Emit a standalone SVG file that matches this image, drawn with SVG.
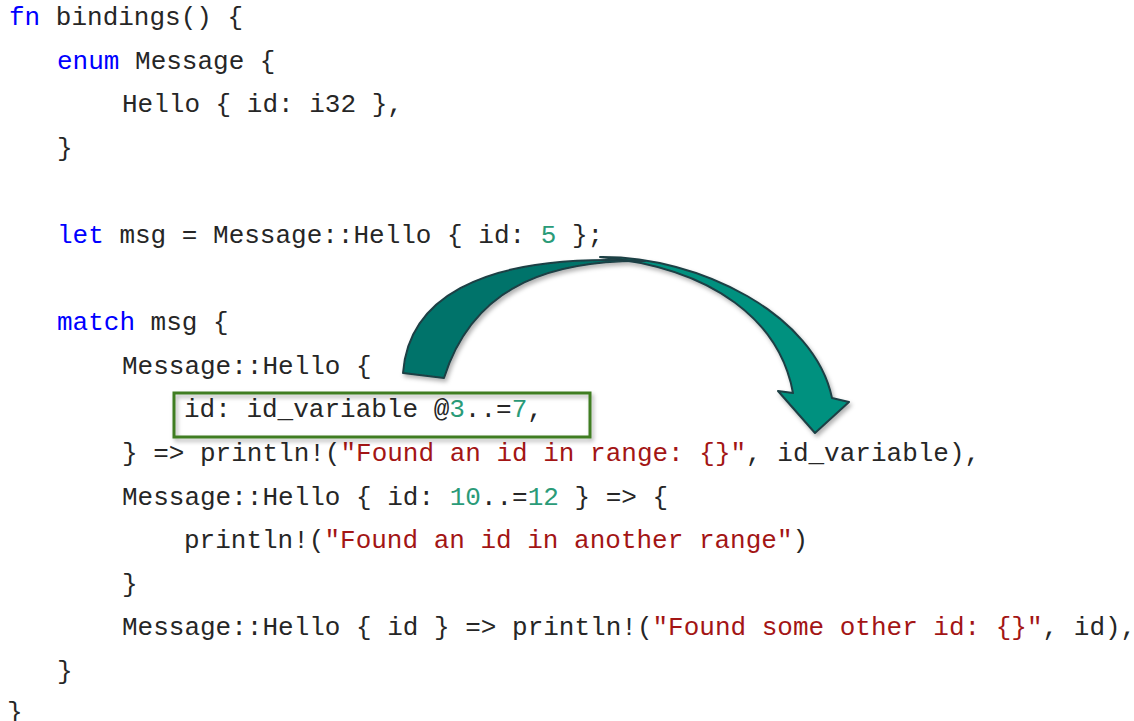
<svg xmlns="http://www.w3.org/2000/svg" width="1134" height="721" viewBox="0 0 1134 721">
<style>
text{font-family:"Liberation Mono","Courier New",monospace;font-size:26px;fill:#262626;white-space:pre}
.kw{fill:#0000ff}
.num{fill:#2a9b78}
.str{fill:#a31515}
.arrow{stroke:#1d3f44;stroke-width:2;stroke-linejoin:round}
</style>
<defs>
<filter id="sh" x="-10%" y="-10%" width="130%" height="130%">
<feDropShadow dx="2" dy="3" stdDeviation="2" flood-color="#000" flood-opacity="0.3"/>
</filter>
</defs>
<rect width="1134" height="721" fill="#ffffff"/>
<g id="code" xml:space="preserve">
<text x="9" y="25"><tspan class="kw">fn</tspan> bindings() {</text>
<text x="57" y="68.6"><tspan class="kw">enum</tspan> Message {</text>
<text x="122" y="112.2">Hello { id: i32 },</text>
<text x="57" y="155.8">}</text>
<text x="57" y="243"><tspan class="kw">let</tspan> msg = Message::Hello { id: <tspan class="num">5</tspan> };</text>
<text x="57" y="330.2"><tspan class="kw">match</tspan> msg {</text>
<text x="122" y="373.8">Message::Hello {</text>
<text x="184" y="417.4">id: id_variable @<tspan class="num">3</tspan>..=<tspan class="num">7</tspan>,</text>
<text x="122" y="461">} =&gt; println!(<tspan class="str">"Found an id in range: {}"</tspan>, id_variable),</text>
<text x="122" y="504.6">Message::Hello { id: <tspan class="num">10</tspan>..=<tspan class="num">12</tspan> } =&gt; {</text>
<text x="184" y="548.2">println!(<tspan class="str">"Found an id in another range"</tspan>)</text>
<text x="122" y="591.8">}</text>
<text x="122" y="635.4">Message::Hello { id } =&gt; println!(<tspan class="str">"Found some other id: {}"</tspan>, id),</text>
<text x="57" y="679">}</text>
<text x="7" y="720">}</text>
</g>
<g id="highlight-box">
<rect x="174" y="393" width="416" height="44" fill="none" stroke="#3f7d22" stroke-width="3" filter="url(#sh)"/>
</g>
<g id="connectors" filter="url(#sh)">
<path class="arrow" fill="#00917f" d="M600,257 C700,256 815,315 832,398 L849,402 L815,433 L778,391 L793,393 C780,322 715,268 600,257 Z"/>
<path class="arrow" fill="#00736a" d="M403,373 C408,305 470,252 645,261 C560,260 475,280 444,378 Z"/>
</g>
</svg>
